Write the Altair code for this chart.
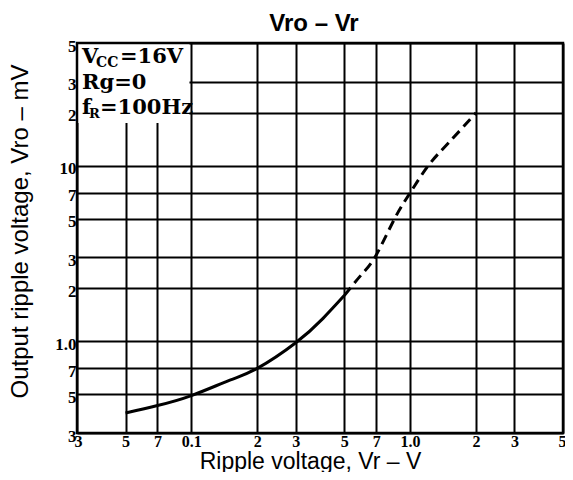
import altair as alt
import pandas as pd

# Axis ticks (log-log chart paper)
x_ticks = [0.03, 0.05, 0.07, 0.1, 0.2, 0.3, 0.5, 0.7, 1.0, 2, 3, 5]
x_tick_labels = ["3", "5", "7", "0.1", "2", "3", "5", "7", "1.0", "2", "3", "5"]
y_ticks = [0.3, 0.5, 0.7, 1.0, 2, 3, 5, 7, 10, 20, 30, 50]
y_tick_labels = ["3", "5", "7", "1.0", "2", "3", "5", "7", "10", "2", "3", "5"]

# Curve: solid part (measured) and dashed part (extrapolated)
solid_vr = [0.05, 0.07, 0.1, 0.15, 0.2, 0.3, 0.4, 0.5]
solid_vro = [0.39, 0.43, 0.49, 0.6, 0.70, 0.98, 1.35, 1.82]
dashed_vr = [0.5, 0.6, 0.7, 0.85, 1.0, 1.21, 1.5, 2.0]
dashed_vro = [1.82, 2.4, 3.1, 5.0, 7.0, 10, 13.5, 20]

# Condition box (top-left) and its text rows
box_vr = [0.03, 0.098]
box_vro = [17.5, 50]
row_vro = [38.5, 27.2, 19.6]

chart_title = "Vro – Vr"
x_title = "Ripple voltage, Vr – V"
y_title = "Output ripple voltage, Vro – mV"

W, H = 486, 390

xs = alt.Scale(type="log", domain=[0.03, 5], nice=False)
ys = alt.Scale(type="log", domain=[0.3, 50], nice=False)


def lbl_expr(vals, labels):
    v = ",".join(repr(float(a)) for a in vals)
    t = ",".join("'" + s + "'" for s in labels)
    return f"[{t}][indexof([{v}], datum.value)]"


common_axis = dict(
    grid=True, gridColor="black", gridWidth=2, gridOpacity=1,
    ticks=False, domain=False, labelOverlap=False, labelBound=False,
    labelFont="Liberation Serif", labelFontWeight="bold",
    labelColor="black", titleFont="Liberation Sans",
    titleFontWeight="normal", titleColor="black", titleBaseline="alphabetic",
    titleAlign="center",
)

x_axis = alt.Axis(values=x_ticks, labelExpr=lbl_expr(x_ticks, x_tick_labels),
                  labelFlush=True, labelFlushOffset=3, labelPadding=0,
                  labelFontSize=16,
                  title=x_title, titleX=233, titleY=35, titleFontSize=23,
                  titleAngle=0, **common_axis)
y_axis = alt.Axis(values=y_ticks, labelExpr=lbl_expr(y_ticks, y_tick_labels),
                  labelPadding=1, labelOffset=3, labelFontSize=17,
                  title=y_title, titleX=-50, titleY=188, titleFontSize=24,
                  titleAngle=-90, **common_axis)

solid_df = pd.DataFrame({"vr": solid_vr, "vro": solid_vro})
dashed_df = pd.DataFrame({"vr": dashed_vr, "vro": dashed_vro})

base_solid = alt.Chart(solid_df).mark_line(
    color="black", strokeWidth=3, interpolate="natural"
).encode(
    x=alt.X("vr:Q", scale=xs, axis=x_axis),
    y=alt.Y("vro:Q", scale=ys, axis=y_axis),
)

dashed = alt.Chart(dashed_df).mark_line(
    color="black", strokeWidth=3, strokeDash=[10, 6], interpolate="natural"
).encode(x=alt.X("vr:Q", scale=xs), y=alt.Y("vro:Q", scale=ys))

box_df = pd.DataFrame({"x1": [box_vr[0]], "x2": [box_vr[1]],
                       "y1": [box_vro[0]], "y2": [box_vro[1]]})
box = alt.Chart(box_df).mark_rect(fill="white", stroke=None).encode(
    x=alt.X("x1:Q", scale=xs), x2="x2", y=alt.Y("y1:Q", scale=ys), y2="y2")

frame_df = pd.DataFrame({"x1": [0.03], "x2": [5], "y1": [0.3], "y2": [50]})
frame = alt.Chart(frame_df).mark_rect(
    filled=False, stroke="black", strokeWidth=2.5
).encode(x=alt.X("x1:Q", scale=xs), x2="x2", y=alt.Y("y1:Q", scale=ys), y2="y2")


def piece(txt, yval, dx, size, dy=0):
    df = pd.DataFrame({"vr": [0.03], "vro": [yval], "t": [txt]})
    return alt.Chart(df).mark_text(
        align="left", baseline="alphabetic", dx=dx, dy=dy,
        font="DejaVu Serif", fontWeight="bold", fontSize=size, color="black"
    ).encode(x=alt.X("vr:Q", scale=xs), y=alt.Y("vro:Q", scale=ys), text="t:N")


texts = [
    piece("V", row_vro[0], 5, 21),
    piece("CC", row_vro[0], 19, 14, 4),
    piece("=16V", row_vro[0], 43, 21),
    piece("Rg=0", row_vro[1], 5, 21),
    piece("f", row_vro[2], 5, 21),
    piece("R", row_vro[2], 12, 13, 4),
    piece("=100Hz", row_vro[2], 23, 21),
]

title_mark = alt.Chart(pd.DataFrame({"t": [chart_title]})).mark_text(
    align="center", baseline="alphabetic", font="Liberation Sans",
    fontWeight="bold", fontSize=24, color="black"
).encode(x=alt.value(237), y=alt.value(-12), text="t:N")

chart = alt.layer(base_solid, box, dashed, *texts, frame, title_mark).properties(
    width=W, height=H,
    autosize=alt.AutoSizeParams(type="none"),
    padding={"left": 69, "top": 35, "right": 2, "bottom": 39},
).configure_view(strokeWidth=0)

chart.save("out.html", embed_options={"renderer": "svg", "actions": False})
